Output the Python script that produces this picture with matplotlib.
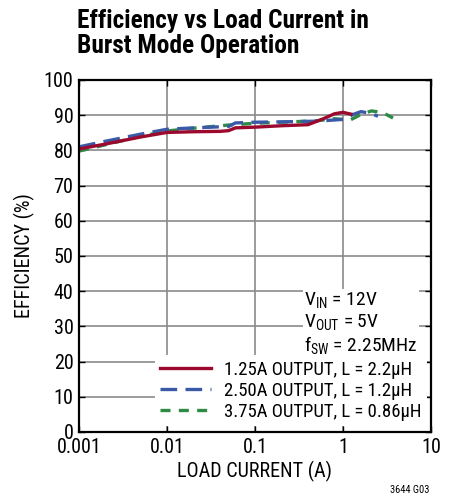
import numpy as np
import matplotlib.pyplot as plt
from matplotlib import font_manager

# pick a condensed face if one is around, else Roboto
ttf = font_manager.fontManager.ttflist
names = sorted(set(f.name for f in ttf))
pref = ['Liberation Sans Narrow', 'Roboto Condensed', 'Open Sans Condensed', 'DejaVu Sans Condensed']
narrow = [n for n in pref if n in names] + [n for n in names if ('Narrow' in n or 'Condensed' in n) and n not in pref]
fam = narrow[0] if narrow else 'Roboto'
plt.rcParams['font.family'] = [fam, 'DejaVu Sans']
plt.rcParams['mathtext.fontset'] = 'custom'
plt.rcParams['mathtext.rm'] = fam

def wnum(w):
    return w if isinstance(w, int) else font_manager.weight_dict.get(w, 400)

bold_files = [f.fname for f in ttf if f.name == fam and wnum(f.weight) >= 700 and f.style == 'normal']
if bold_files:
    title_font = font_manager.FontProperties(fname=bold_files[0], size=18.3)
else:
    title_font = font_manager.FontProperties(family=[fam, 'DejaVu Sans'], weight='bold', size=18.3)

# data
i_125 = [0.001, 0.002, 0.005, 0.01, 0.02, 0.04, 0.05, 0.06, 0.1, 0.2, 0.4, 0.6, 0.8, 1.0, 1.23]
e_125 = [80.4, 81.8, 83.8, 85.1, 85.3, 85.4, 85.6, 86.4, 86.6, 87.0, 87.3, 89.0, 90.4, 90.8, 90.3]

i_250 = [0.001, 0.002, 0.005, 0.01, 0.02, 0.05, 0.06, 0.1, 0.2, 0.5, 1.0, 1.3, 1.6, 2.0, 2.5]
e_250 = [81.0, 82.6, 84.6, 86.0, 86.4, 86.8, 87.8, 88.0, 88.1, 88.3, 88.8, 90.2, 91.0, 90.6, 89.7]

i_375 = [0.001, 0.002, 0.005, 0.01, 0.02, 0.05, 0.1, 0.2, 0.5, 0.8, 1.0, 1.2, 1.6, 2.1, 2.8, 3.7]
e_375 = [79.8, 81.6, 84.0, 85.5, 86.3, 87.2, 87.7, 88.0, 88.4, 89.0, 88.8, 88.6, 90.2, 91.2, 90.8, 89.2]

xticks = [0.001, 0.01, 0.1, 1, 10]
xlabels = ['0.001', '0.01', '0.1', '1', '10']
yticks = list(range(0, 101, 10))

fs_tick = 14.5
fs_leg = 13.5

fig = plt.figure(figsize=(4.53, 5.04), dpi=100)
ax = fig.add_axes([0.1744, 0.1429, 0.7770, 0.6984])

ax.plot(i_125, e_125, color='#9b0a2e', lw=2.4, label='1.25A OUTPUT, L = 2.2µH', zorder=5)
ax.plot(i_250, e_250, color='#3a5aa8', lw=2.4, dashes=(5, 2.5), label='2.50A OUTPUT, L = 1.2µH', zorder=4)
ax.plot(i_375, e_375, color='#2e8b45', lw=2.4, dashes=(3, 2.5), label='3.75A OUTPUT, L = 0.86µH', zorder=3)

ax.set_xscale('log')
ax.set_xlim(0.001, 10)
ax.set_ylim(0, 100)
ax.set_xticks(xticks)
ax.set_xticklabels(xlabels)
ax.xaxis.set_minor_locator(plt.NullLocator())
ax.set_yticks(yticks)
ax.grid(True, color='#8a8a8a', lw=1.2)
ax.set_axisbelow(True)
ax.tick_params(direction='in', top=True, right=True, length=4, width=1, labelsize=fs_tick, pad=4)
for s in ax.spines.values():
    s.set_linewidth(1.6)
    s.set_zorder(6)

ax.set_xlabel('LOAD CURRENT (A)', fontsize=fs_tick, labelpad=3)
ax.set_ylabel('EFFICIENCY (%)', fontsize=fs_tick, labelpad=6)

fig.text(0.170, 0.982, 'Efficiency vs Load Current in\nBurst Mode Operation',
         fontproperties=title_font, va='top', ha='left', linespacing=1.05)

ax.text(0.64, 0.403, '$\\mathregular{V_{IN}}$ = 12V\n$\\mathregular{V_{OUT}}$ = 5V\n$\\mathregular{f_{SW}}$ = 2.25MHz',
        transform=ax.transAxes, fontsize=fs_leg + 0.5, va='top', ha='left', linespacing=1.12,
        zorder=2, bbox=dict(facecolor='white', edgecolor='none', pad=1))

leg = ax.legend(loc='lower right', bbox_to_anchor=(1.0, 0.005), frameon=True, fontsize=fs_leg,
                handlelength=2.7, handletextpad=0.7, labelspacing=0.16, borderpad=0.3,
                borderaxespad=0.2)
leg.get_frame().set_edgecolor('none')
leg.get_frame().set_facecolor('white')
leg.get_frame().set_alpha(1)

fig.text(0.905, 0.018, '3644 G03', fontsize=7.5, ha='center', va='bottom')

fig.savefig('out.png', dpi=100)
